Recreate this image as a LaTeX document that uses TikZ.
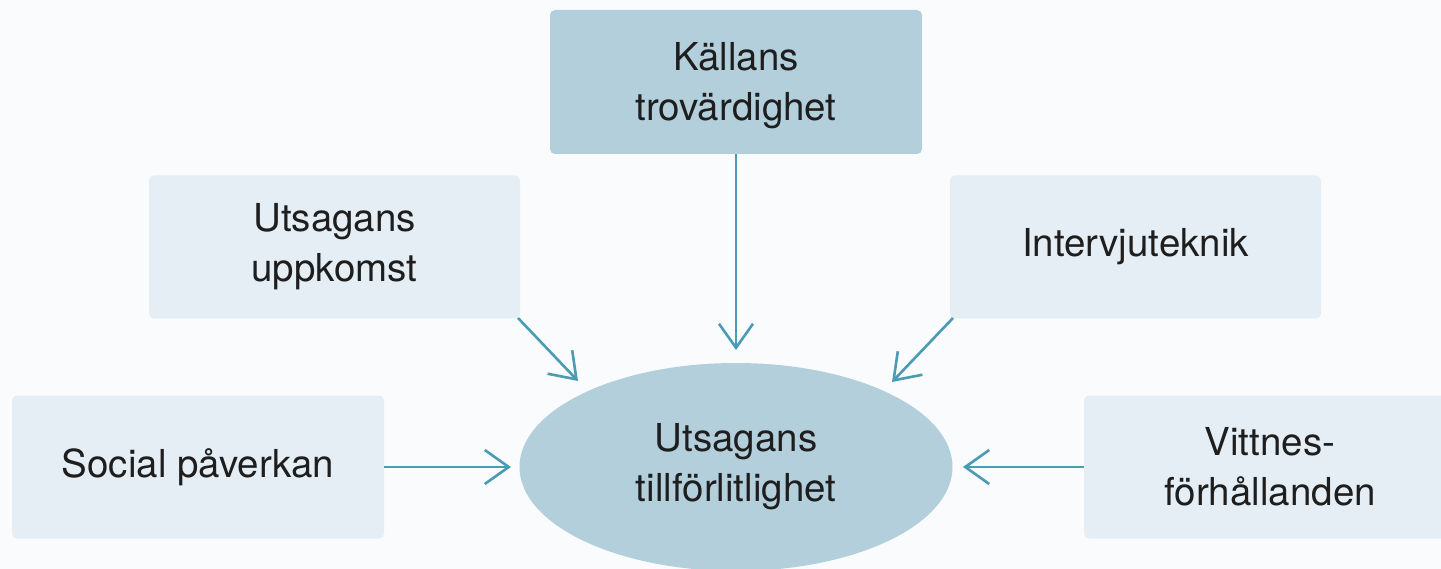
\documentclass[tikz,border=0pt]{standalone}
\usepackage{fontspec}
\setmainfont{TeX Gyre Heros}
\usetikzlibrary{shapes.geometric,arrows.meta}
\definecolor{bgcol}{HTML}{FAFBFC}
\definecolor{darkbox}{HTML}{B3CFDC}
\definecolor{lightbox}{HTML}{E5EEF4}
\definecolor{arrowcol}{HTML}{4A9BB5}
\definecolor{txtcol}{HTML}{1E1E1E}
\tikzset{
  base/.style={text=txtcol, align=center, font=\fontsize{38.5}{50}\selectfont, inner sep=0pt},
  lightrect/.style={base, fill=lightbox, rounded corners=5pt, minimum width=371pt, minimum height=143pt},
  darkrect/.style={base, fill=darkbox, rounded corners=5pt, minimum width=372pt, minimum height=144pt},
  centre/.style={base, ellipse, fill=darkbox, minimum width=433pt, minimum height=208pt},
  conn/.style={draw=arrowcol, line width=2.6pt, -{Straight Barb[length=24pt,width=34pt,line width=2.6pt]}}
}
\begin{document}
\begin{tikzpicture}[x=1pt,y=-1pt]
\useasboundingbox (0,0) rectangle (1441,569);
\clip (0,0) rectangle (1441,569);
\fill[bgcol] (0,0) rectangle (1441,569);
\node[darkrect] (kallans) at (736,82) {\strut Källans\\trovärdighet};
\node[lightrect] (uppkomst) at (334.5,247) {Utsagans\\uppkomst};
\node[lightrect] (intervju) at (1135.5,247) {Intervjuteknik};
\node[lightrect, minimum width=372pt] (social) at (198,467) {Social påverkan};
\node[lightrect, minimum width=372pt] (vittnes) at (1270,467) {Vittnes-\\förhållanden};
\node[centre] (centre) at (736,467) {Utsagans\\tillförlitlighet};
\coordinate (tipK) at (736,350);
\coordinate (tipU) at (578,381);
\coordinate (tipI) at (892,382);
\coordinate (tipS) at (511,467);
\coordinate (tipV) at (963,467);
\coordinate (startU) at (518,318);
\coordinate (startI) at (953,318);
\draw[conn] (kallans.south) -- (tipK);
\draw[conn] (startU) -- (tipU);
\draw[conn] (startI) -- (tipI);
\draw[conn] (social.east) -- (tipS);
\draw[conn] (vittnes.west) -- (tipV);
\end{tikzpicture}
\end{document}
